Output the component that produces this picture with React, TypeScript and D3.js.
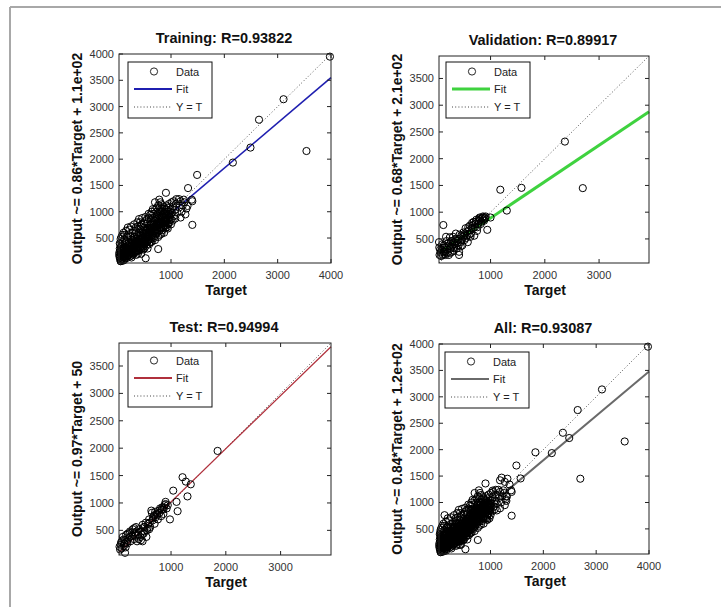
import React from 'react';
import * as d3 from 'd3';

type P = [number, number];

const trainData: P[] = [
  [3980, 3950], [3110, 3140], [2650, 2750], [2490, 2220], [3540, 2155], [2160, 1935],
  [1490, 1700], [1320, 1450], [905, 1360], [1400, 1200], [1400, 750], [760, 290],
  [525, 115], [30, 180], [1310, 1110], [1390, 1230],
  [40, 120], [50, 90], [60, 200], [70, 150], [80, 260], [90, 110], [100, 180], [110, 320],
  [120, 240], [130, 140], [140, 400], [150, 210], [160, 300], [170, 120], [180, 260],
  [190, 350], [200, 180], [210, 420], [220, 280], [230, 150], [240, 330], [250, 470],
  [260, 230], [270, 380], [280, 300], [290, 190], [300, 440], [60, 330], [90, 420],
  [130, 470], [170, 520], [200, 560], [120, 80], [45, 260], [75, 360], [105, 250],
  [145, 330], [185, 200], [215, 340], [245, 260], [275, 450], [305, 360], [35, 150],
  [55, 60], [85, 300], [115, 160], [155, 430], [195, 280], [235, 520], [265, 170], [295, 280],
  [310, 250], [320, 520], [330, 380], [340, 300], [350, 610], [360, 450], [370, 330],
  [380, 540], [390, 400], [400, 260], [410, 480], [420, 660], [430, 370], [440, 560],
  [450, 430], [460, 300], [470, 620], [480, 500], [490, 390], [500, 700], [510, 560],
  [520, 440], [530, 350], [540, 640], [550, 520], [560, 780], [570, 450], [580, 600],
  [590, 380], [600, 540], [420, 800], [380, 720], [450, 760], [330, 650], [510, 820],
  [560, 300], [480, 280], [440, 200], [350, 180], [600, 420], [320, 440], [360, 560],
  [400, 600], [440, 480], [480, 660], [520, 600], [560, 680], [500, 480], [460, 540],
  [420, 420], [380, 380], [340, 420], [300, 520],
  [610, 700], [620, 480], [630, 620], [640, 780], [650, 560], [660, 880], [670, 700],
  [680, 500], [690, 640], [700, 820], [710, 720], [720, 580], [730, 900], [740, 760],
  [750, 640], [760, 980], [770, 820], [780, 700], [790, 560], [800, 880], [810, 760],
  [820, 1000], [830, 900], [840, 650], [850, 820], [860, 960], [870, 740], [880, 1060],
  [890, 880], [900, 800], [910, 1000], [920, 700], [930, 940], [940, 860], [950, 1080],
  [960, 780], [970, 960], [980, 900], [990, 1040], [1000, 850], [660, 1050], [700, 1180],
  [740, 1080], [780, 1230], [800, 1180], [640, 430], [700, 460], [760, 520], [820, 580],
  [870, 600], [940, 680], [1000, 760], [680, 760], [720, 660], [760, 880], [800, 800],
  [840, 920], [880, 840], [920, 1040], [960, 960], [620, 860], [580, 880],
  [1020, 980], [1040, 1100], [1060, 920], [1080, 1040], [1100, 1150], [1120, 980],
  [1150, 1080], [1180, 1200], [1200, 1000], [1220, 1120], [1250, 1180], [1270, 950],
  [1180, 890], [1050, 1200], [1100, 1240], [1010, 1180], [1030, 830], [1150, 1240],
  [1290, 1060], [1240, 1230], [1080, 870],
  [40, 300], [50, 380], [65, 250], [75, 180], [95, 220], [110, 130], [125, 300], [135, 200],
  [150, 150], [165, 380], [175, 240], [190, 170], [205, 320], [225, 230], [235, 400],
  [255, 300], [270, 220], [285, 350], [300, 300], [315, 400], [325, 230], [345, 350],
  [355, 260], [365, 400], [375, 480], [385, 260], [395, 340], [405, 420], [415, 300],
  [425, 540], [435, 290], [445, 380], [455, 500], [465, 420], [475, 340], [485, 580],
  [495, 460], [505, 380], [515, 520], [525, 640], [535, 480], [545, 560], [555, 420],
  [565, 520], [575, 700], [585, 520], [595, 640], [605, 600], [615, 760], [625, 680],
  [635, 540], [645, 700], [655, 620], [665, 780], [675, 600], [685, 840], [695, 700],
  [705, 600], [715, 860], [725, 760], [735, 680], [745, 940], [755, 800], [765, 740],
  [775, 920], [785, 800], [795, 1000], [805, 700], [815, 900], [825, 820], [835, 1060],
  [845, 780], [855, 900], [865, 1100], [875, 820], [885, 960], [895, 700], [905, 880],
  [915, 1120], [925, 820], [935, 1000], [945, 760], [955, 920], [965, 1150], [975, 840],
  [985, 1000], [995, 940],
  [60, 60], [80, 90], [100, 70], [140, 110], [180, 150], [220, 190], [260, 130], [300, 210],
  [340, 240], [380, 200], [420, 320], [460, 360], [500, 300], [540, 420], [580, 480],
  [620, 420], [660, 520], [700, 540], [740, 600], [780, 640], [820, 680], [860, 700],
  [900, 740], [940, 780],
  [30, 220], [40, 400], [55, 480], [70, 520], [90, 560], [110, 600], [130, 560], [160, 640],
  [190, 700], [220, 660], [250, 720], [280, 600], [310, 760], [340, 700], [370, 800],
  [400, 860], [430, 720], [460, 880], [490, 780], [520, 900], [550, 860], [580, 960],
  [610, 940], [640, 1000], [670, 960], [700, 1040], [730, 1000], [760, 1120], [790, 1080],
  [820, 1140],
];

const valData: P[] = [
  [2370, 2320], [2700, 1450], [1570, 1455], [1180, 1420], [1300, 1030], [1000, 900],
  [940, 670], [130, 760], [50, 440], [55, 340],
  [80, 250], [100, 300], [120, 200], [140, 380], [160, 260], [180, 540], [200, 300],
  [220, 420], [250, 530], [260, 240], [280, 350], [300, 460], [320, 280], [340, 400],
  [360, 600], [380, 330], [400, 500], [420, 260], [440, 440], [460, 560], [480, 380],
  [500, 620], [520, 480], [540, 700], [560, 560], [580, 440], [600, 660], [620, 750],
  [640, 600], [660, 800], [680, 700], [700, 560], [720, 780], [740, 860], [760, 720],
  [780, 840], [800, 900], [820, 780], [840, 880], [860, 920], [880, 840], [900, 900],
  [150, 220], [230, 200], [270, 460], [330, 330], [390, 420], [450, 360], [510, 560],
  [570, 640], [630, 540], [690, 820], [750, 650], [810, 860], [420, 200], [350, 500],
  [300, 380], [200, 360], [120, 330],
  [60, 200], [70, 300], [90, 180], [110, 400], [130, 260], [150, 340], [170, 200],
  [190, 460], [210, 240], [240, 380], [260, 320], [290, 260], [310, 540], [330, 440],
  [370, 460], [410, 380], [430, 580], [470, 480], [490, 540], [530, 600], [550, 520],
  [590, 720], [610, 580], [650, 700], [670, 760], [710, 720], [730, 820], [770, 780],
  [790, 880], [830, 820], [850, 900], [870, 860], [890, 880], [910, 920],
];

const testData: P[] = [
  [1850, 1950], [1210, 1470], [1270, 1390], [1360, 1340], [1300, 1120], [1040, 1225],
  [1100, 1020], [1120, 850], [980, 700], [900, 980], [160, 90], [100, 170], [190, 290],
  [60, 200], [80, 240], [100, 300], [120, 380], [140, 220], [160, 320], [180, 420],
  [200, 260], [220, 350], [240, 450], [260, 300], [280, 400], [300, 520], [320, 340],
  [340, 460], [360, 560], [380, 300], [400, 420], [420, 520], [440, 380], [460, 480],
  [480, 600], [500, 440], [520, 560], [540, 640], [560, 500], [580, 620], [600, 700],
  [620, 560], [640, 860], [650, 820], [660, 680], [680, 760], [700, 620], [720, 740],
  [740, 800], [760, 700], [780, 860], [800, 900], [820, 760], [840, 920], [860, 880],
  [880, 960], [900, 1020], [920, 900], [940, 960], [860, 800], [700, 780], [600, 520],
  [500, 560], [450, 320], [350, 400], [250, 380], [150, 260], [550, 380], [480, 300],
  [70, 150], [90, 280], [130, 330], [170, 190], [210, 440], [250, 480], [290, 460],
  [330, 540], [370, 480], [410, 340], [470, 420], [510, 480], [570, 540], [610, 640],
  [670, 720], [710, 840], [750, 780], [790, 820], [830, 880], [870, 920],
];

const allData: P[] = [...trainData, ...valData, ...testData];

const titles = ['Training: R=0.93822', 'Validation: R=0.89917', 'Test: R=0.94994', 'All: R=0.93087'];
const yLabels = [
  'Output ~= 0.86*Target + 1.1e+02',
  'Output ~= 0.68*Target + 2.1e+02',
  'Output ~= 0.97*Target + 50',
  'Output ~= 0.84*Target + 1.2e+02',
];
const slopes = [0.86, 0.68, 0.97, 0.84];
const intercepts = [110, 210, 50, 120];
const limits: [number, number][] = [[25, 4000], [50, 3920], [50, 3920], [25, 4000]];
const tickValues = [500, 1000, 1500, 2000, 2500, 3000, 3500, 4000];
const xTickValues = [1000, 2000, 3000, 4000];
const legendLabels = ['Data', 'Fit', 'Y = T'];

const FONT = '"Liberation Sans", Arial, Helvetica, sans-serif';

interface Layout {
  left: number; top: number; w: number; h: number;
  color: string; lw: number; lx: number; ly: number;
}

const layouts: Layout[] = [
  { left: 119, top: 54, w: 212, h: 209, color: '#1f1fb0', lw: 1.6, lx: 9, ly: 8 },
  { left: 439, top: 56, w: 210, h: 207, color: '#3fd23f', lw: 3, lx: 7, ly: 6 },
  { left: 119, top: 343, w: 212, h: 212, color: '#b0303c', lw: 1.2, lx: 9, ly: 8 },
  { left: 439, top: 344, w: 210, h: 210, color: '#6a6a6a', lw: 2, lx: 6, ly: 8 },
];

function Panel({ idx, data }: { idx: number; data: P[] }) {
  const L = layouts[idx];
  const lim = limits[idx];
  const x = d3.scaleLinear().domain(lim).range([L.left, L.left + L.w]);
  const y = d3.scaleLinear().domain(lim).range([L.top + L.h, L.top]);
  const xt = xTickValues.filter((t) => t >= lim[0] && t <= lim[1]);
  const yt = tickValues.filter((t) => t >= lim[0] && t <= lim[1]);
  const line = d3.line<number>().x((d) => x(d)).y((d) => y(slopes[idx] * d + intercepts[idx]));
  const diag = d3.line<number>().x((d) => x(d)).y((d) => y(d));
  const tl = 4;
  const bottom = L.top + L.h;
  const right = L.left + L.w;
  const lgx = L.left + L.lx;
  const lgy = L.top + L.ly;
  const rows = [lgy + 9.5, lgy + 27, lgy + 45];
  return (
    <g>
      <path d={diag(lim) || ''} stroke="#555" strokeWidth={1} strokeDasharray="1,2.2" fill="none" />
      <path d={line(lim) || ''} stroke={L.color} strokeWidth={L.lw} fill="none" />
      {data.map((d, i) => (
        <circle key={i} cx={x(d[0])} cy={y(d[1])} r={3.6} fill="none" stroke="#000" strokeWidth={1} />
      ))}
      <rect x={L.left} y={L.top} width={L.w} height={L.h} fill="none" stroke="#222" strokeWidth={1} />
      {xt.map((t) => (
        <g key={'x' + t}>
          <line x1={x(t)} x2={x(t)} y1={bottom} y2={bottom - tl} stroke="#222" />
          <line x1={x(t)} x2={x(t)} y1={L.top} y2={L.top + tl} stroke="#222" />
          <text x={x(t)} y={bottom + 16} textAnchor="middle" fontSize={11} fill="#333" fontFamily={FONT}>{t}</text>
        </g>
      ))}
      {yt.map((t) => (
        <g key={'y' + t}>
          <line x1={L.left} x2={L.left + tl} y1={y(t)} y2={y(t)} stroke="#222" />
          <line x1={right} x2={right - tl} y1={y(t)} y2={y(t)} stroke="#222" />
          <text x={L.left - 5} y={y(t) + 4} textAnchor="end" fontSize={11} fill="#333" fontFamily={FONT}>{t}</text>
        </g>
      ))}
      <text x={L.left + L.w / 2 - 1} y={L.top - 11} textAnchor="middle" fontSize={14.5} fontWeight="bold" fill="#111" fontFamily={FONT}>{titles[idx]}</text>
      <text x={L.left + L.w / 2 + 1} y={bottom + 32} textAnchor="middle" fontSize={14} fontWeight="bold" fill="#111" fontFamily={FONT}>Target</text>
      <text transform={`translate(${L.left - 37},${L.top + L.h / 2}) rotate(-90)`} textAnchor="middle" fontSize={14} fontWeight="bold" fill="#111" fontFamily={FONT}>{yLabels[idx]}</text>
      <rect x={lgx} y={lgy} width={84} height={56} fill="#fff" stroke="#111" strokeWidth={1} />
      <circle cx={lgx + 26} cy={rows[0]} r={3.6} fill="none" stroke="#111" strokeWidth={0.9} />
      <line x1={lgx + 6} x2={lgx + 44} y1={rows[1]} y2={rows[1]} stroke={L.color} strokeWidth={Math.max(L.lw, 1.8)} />
      <line x1={lgx + 6} x2={lgx + 44} y1={rows[2]} y2={rows[2]} stroke="#444" strokeWidth={1} strokeDasharray="1,2.2" />
      {legendLabels.map((s, i) => (
        <text key={s} x={lgx + 48} y={rows[i] + 4} fontSize={11} fill="#222" fontFamily={FONT}>{s}</text>
      ))}
    </g>
  );
}

export default function App() {
  const sets = [trainData, valData, testData, allData];
  return (
    <svg width={721} height={607} style={{ position: 'absolute', left: 0, top: 0, display: 'block', background: '#fff' }}>
      <rect x={0} y={0} width={721} height={607} fill="#fff" />
      <line x1={10} x2={721} y1={7} y2={7} stroke="#a8a8a8" strokeWidth={2} />
      <line x1={10} x2={10} y1={7} y2={607} stroke="#a8a8a8" strokeWidth={2} />
      {sets.map((d, i) => (
        <Panel key={i} idx={i} data={d} />
      ))}
    </svg>
  );
}
